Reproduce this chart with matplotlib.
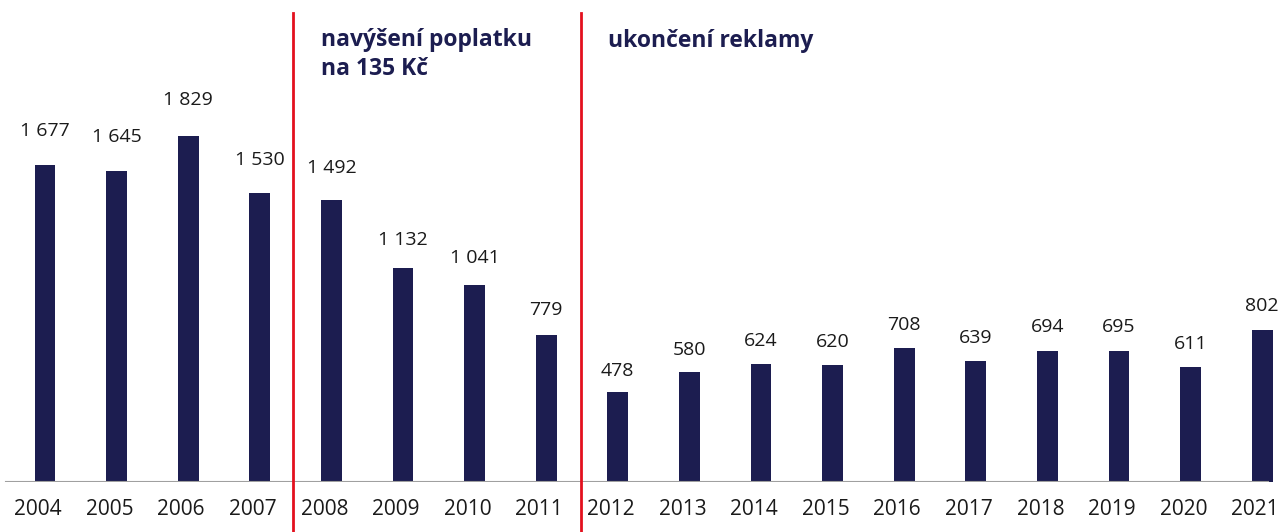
import matplotlib
matplotlib.use("Agg")
import matplotlib.pyplot as plt
import matplotlib.transforms as mtransforms

years = ["2004", "2005", "2006", "2007", "2008", "2009", "2010", "2011", "2012",
         "2013", "2014", "2015", "2016", "2017", "2018", "2019", "2020", "2021"]
values = [1677, 1645, 1829, 1530, 1492, 1132, 1041, 779, 478,
          580, 624, 620, 708, 639, 694, 695, 611, 802]
labels = ["1 677", "1 645", "1 829", "1 530", "1 492", "1 132", "1 041", "779", "478",
          "580", "624", "620", "708", "639", "694", "695", "611", "802"]
events = ["navýšení poplatku\nna 135 Kč", "ukončení reklamy"]
event_pos = [3.47, 7.48]

plt.rcParams['font.family'] = ['Open Sans', 'DejaVu Sans']

W, H, DPI = 1284, 532, 100
fig = plt.figure(figsize=(W / DPI, H / DPI), dpi=DPI)
base_px = 50
ax = fig.add_axes([0, base_px / H, 1, 1 - base_px / H])

spacing = 71.6
x0 = 45
xl = -x0 / spacing
xr = (W - x0) / spacing
ax.set_xlim(xl, xr)
px_per_unit = 0.189
ymax = (H - base_px) / px_per_unit
ax.set_ylim(0, ymax)

navy = "#1c1d50"
red = "#e3101e"
x = list(range(len(years)))
ax.bar(x, values, width=0.29, color=navy, zorder=2)

for xi, v, lab in zip(x, values, labels):
    gap_px = 10.7 + 0.0111 * v
    ax.annotate(lab, (xi, v), xytext=(0, gap_px * 72 / DPI), textcoords="offset points",
                ha="center", va="baseline", fontsize=14, color="#1a1a1a")

# baseline axis line
ax.axhline(0, xmin=6 / W, xmax=1268 / W, color="#a0a0a0", lw=1.5, zorder=3)

# event lines
top_y = (H - base_px - 13) / px_per_unit
bot_y = -base_px / px_per_unit
for ep in event_pos:
    ax.plot([ep, ep], [bot_y, top_y], color=red, lw=2, clip_on=False, zorder=4)

# event texts
text_x = [(321 - x0) / spacing, (608 - x0) / spacing]
ax.text(text_x[0], (H - base_px - 28) / px_per_unit, events[0], ha="left", va="top",
        fontsize=16.5, fontweight="bold", color=navy, linespacing=1.3)
ax.text(text_x[1], (H - base_px - 47) / px_per_unit, events[1], ha="left", va="baseline",
        fontsize=16.5, fontweight="bold", color=navy)

ax.set_xticks(x)
ax.set_xticklabels(years, fontsize=15, color="#1a1a1a")
ax.tick_params(axis="x", length=0, pad=12)
shift = mtransforms.ScaledTranslation(-7 / DPI, 0, fig.dpi_scale_trans)
for t in ax.get_xticklabels():
    t.set_transform(t.get_transform() + shift)
ax.set_yticks([])
for s in ax.spines.values():
    s.set_visible(False)

fig.savefig("out.png", dpi=DPI)
